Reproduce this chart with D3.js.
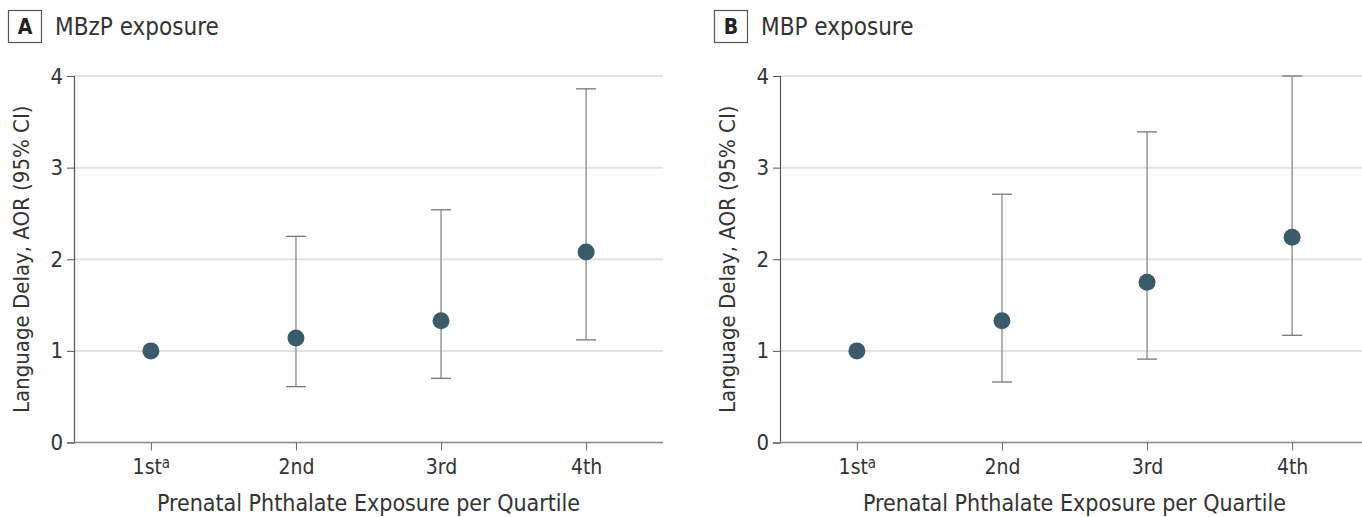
<!DOCTYPE html>
<html>
<head>
<meta charset="utf-8">
<script src="https://cdn.jsdelivr.net/npm/d3@7"></script>
<style>
  body { margin: 0; background: #fff; }
  svg text { font-family: "Liberation Sans Narrow", "DejaVu Sans Condensed", "Open Sans", sans-serif; fill: #333; }
</style>
</head>
<body>
<svg id="chart" width="1362" height="517"></svg>
<script>
/* quartile categories and adjusted odds ratios */
var quartiles = ['1st', '2nd', '3rd', '4th'];
var yTicks = [0, 1, 2, 3, 4];

var mbzpAor = [1.0, 1.14, 1.33, 2.08];
var mbzpLow = [null, 0.61, 0.70, 1.12];
var mbzpHigh = [null, 2.25, 2.54, 3.86];

var mbpAor = [1.0, 1.33, 1.75, 2.24];
var mbpLow = [null, 0.66, 0.91, 1.17];
var mbpHigh = [null, 2.71, 3.39, 4.0];

var panels = [
  { letter: 'A', title: 'MBzP exposure', aor: mbzpAor, low: mbzpLow, high: mbzpHigh, left: 74 },
  { letter: 'B', title: 'MBP exposure', aor: mbpAor, low: mbpLow, high: mbpHigh, left: 780 }
];

var svg = d3.select('#chart');
var plotW = 589;
var plotTop = 76;
var plotBottom = 442.5;

function drawPanel(p) {
  var g = svg.append('g');

  var x = d3.scalePoint().domain(quartiles)
    .range([p.left, p.left + plotW]).padding(0.53);
  var y = d3.scaleLinear().domain([0, 4]).range([plotBottom, plotTop]);

  // header box + title
  var boxX = p.left - 66;
  g.append('rect').attr('x', boxX + 0.5).attr('y', 10.5)
    .attr('width', 33).attr('height', 32)
    .attr('fill', 'none').attr('stroke', '#555').attr('stroke-width', 1.2);
  g.append('text').attr('x', boxX + 17).attr('y', 34)
    .attr('text-anchor', 'middle').attr('font-size', 21).attr('font-weight', 'bold')
    .style('fill', '#222').text(p.letter);
  g.append('text').attr('x', boxX + 47).attr('y', 35)
    .attr('font-size', 24).text(p.title);

  // gridlines
  g.selectAll('.grid').data(yTicks.filter(function(d) { return d > 0; })).enter()
    .append('line')
    .attr('x1', p.left).attr('x2', p.left + plotW)
    .attr('y1', function(d) { return y(d); })
    .attr('y2', function(d) { return y(d); })
    .attr('stroke', '#e2e2e2').attr('stroke-width', 2);

  // y axis
  var yAxis = g.append('g').attr('transform', 'translate(' + p.left + ',0)')
    .call(d3.axisLeft(y).tickValues(yTicks).tickSize(7).tickPadding(4).tickFormat(d3.format('d')));
  yAxis.select('.domain').attr('stroke', '#555').attr('stroke-width', 1.2);
  yAxis.selectAll('.tick line').attr('stroke', '#555');
  yAxis.selectAll('.tick text').attr('font-size', 22).style('fill', '#333');

  // x axis
  var xAxis = g.append('g').attr('transform', 'translate(0,' + plotBottom + ')')
    .call(d3.axisBottom(x).tickSize(8).tickPadding(6).tickFormat(function() { return ''; }));
  xAxis.select('.domain').attr('d', 'M' + p.left + ',0H' + (p.left + plotW))
    .attr('stroke', '#888').attr('stroke-width', 1.5);
  xAxis.selectAll('.tick line').attr('stroke', '#666');
  xAxis.selectAll('.tick text').each(function(d) {
    var t = d3.select(this).attr('font-size', 21).attr('dy', '0.85em').style('fill', '#333');
    if (d === '1st') {
      t.append('tspan').text('1st');
      t.append('tspan').attr('font-size', 15).attr('dy', '-0.45em').text('a');
    } else {
      t.text(d);
    }
  });

  // axis titles
  g.append('text')
    .attr('transform', 'translate(' + (p.left - 45) + ',' + ((plotTop + plotBottom) / 2) + ') rotate(-90)')
    .attr('text-anchor', 'middle').attr('font-size', 22)
    .text('Language Delay, AOR (95% CI)');
  g.append('text').attr('x', p.left + plotW / 2).attr('y', 511)
    .attr('text-anchor', 'middle').attr('font-size', 23)
    .text('Prenatal Phthalate Exposure per Quartile');

  // error bars
  var rows = quartiles.map(function(q, i) {
    return { q: q, aor: p.aor[i], low: p.low[i], high: p.high[i] };
  });
  var ci = rows.filter(function(d) { return d.low !== null; });
  var cap = 10;

  g.selectAll('.ci').data(ci).enter().append('line')
    .attr('x1', function(d) { return x(d.q); }).attr('x2', function(d) { return x(d.q); })
    .attr('y1', function(d) { return y(d.low); }).attr('y2', function(d) { return y(d.high); })
    .attr('stroke', '#888').attr('stroke-width', 1.3);
  ['low', 'high'].forEach(function(k) {
    g.selectAll('.cap-' + k).data(ci).enter().append('line')
      .attr('x1', function(d) { return x(d.q) - cap; })
      .attr('x2', function(d) { return x(d.q) + cap; })
      .attr('y1', function(d) { return y(d[k]); })
      .attr('y2', function(d) { return y(d[k]); })
      .attr('stroke', '#777').attr('stroke-width', 1.3);
  });

  // points
  g.selectAll('.pt').data(rows).enter().append('circle')
    .attr('cx', function(d) { return x(d.q); })
    .attr('cy', function(d) { return y(d.aor); })
    .attr('r', 8.5)
    .attr('fill', '#3a5b6a');
}

panels.forEach(drawPanel);
</script>
</body>
</html>
